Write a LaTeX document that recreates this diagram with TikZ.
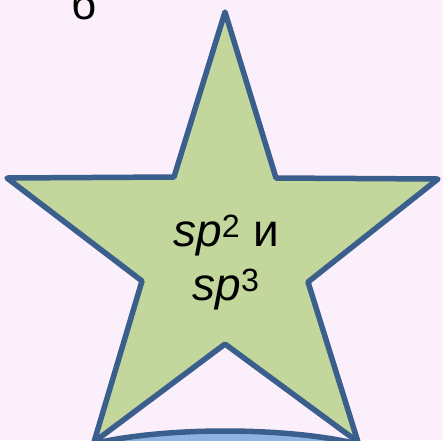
\documentclass[tikz,border=0pt]{standalone}
\usepackage{fontspec}
\setmainfont{Liberation Sans}

\definecolor{sfondo}{RGB}{252,239,252}
\definecolor{bordo}{RGB}{58,95,140}
\definecolor{verde}{RGB}{195,214,155}
\definecolor{azzurro}{RGB}{141,179,226}

\tikzset{
    stella/.style={draw=bordo, fill=verde, line width=5.5pt, line join=round},
    base/.style={draw=bordo, fill=azzurro, line width=5.5pt},
    testo/.style={inner sep=0pt, align=center, font=\fontsize{46}{54}\selectfont}
}

\begin{document}
\begin{tikzpicture}[x=1pt,y=-1pt]
    % Sfondo
    \fill[sfondo] (0,0) rectangle (443,440);
    \useasboundingbox (0,0) rectangle (443,440);

    % Vertici della stella
    \coordinate (top) at (225,12);
    \coordinate (ir) at (276,178);
    \coordinate (dx) at (438,179);
    \coordinate (lr) at (308,282);
    \coordinate (bdx) at (358,442);
    \coordinate (bi) at (225,344);
    \coordinate (bsx) at (94,442);
    \coordinate (ll) at (142,281);
    \coordinate (sx) at (7,178);
    \coordinate (il) at (174,177);

    % Stella
    \draw[stella] (top) -- (ir) -- (dx) -- (lr) -- (bdx) -- (bi)
        -- (bsx) -- (ll) -- (sx) -- (il) -- cycle;

    % Base
    \draw[base] (225,471) ellipse [x radius=180, y radius=40];

    % Testi
    \node[testo] (ibrid) at (226,263) {\textit{sp}\textsuperscript{2} и\\\textit{sp}\textsuperscript{3}};
    \node[inner sep=0pt, anchor=base, font=\fontsize{44}{50}\selectfont] (lettera) at (84,19.5) {б};
\end{tikzpicture}
\end{document}
